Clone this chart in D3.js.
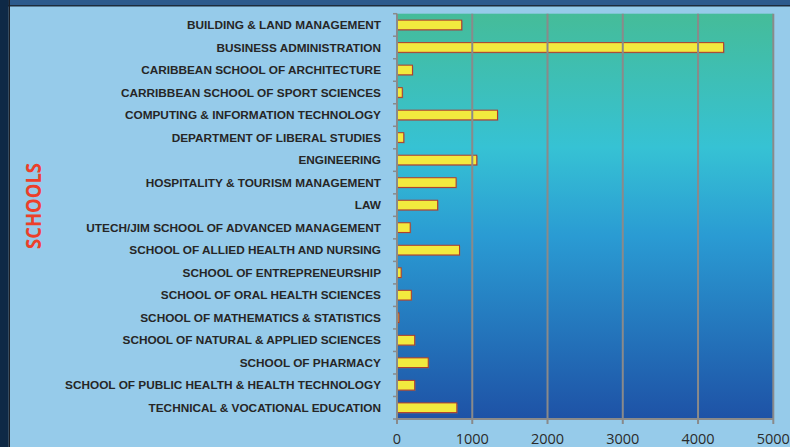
<!DOCTYPE html>
<html>
<head>
  <meta charset="utf-8">
  <script src="https://d3js.org/d3.v7.min.js"></script>
  <style>
    body{margin:0;padding:0;background:#96cbea;}
    svg{display:block;}
    .lbl{font-family:"Liberation Sans",Arial,sans-serif;font-weight:bold;font-size:11.8px;fill:#262626;}
    .tick-x{font-family:"Open Sans",sans-serif;font-size:14.5px;fill:#2b2b2b;}
  </style>
</head>
<body>
<svg></svg>
<script>
  // schools and enrolment
  var schools = [
    "BUILDING & LAND MANAGEMENT",
    "BUSINESS ADMINISTRATION",
    "CARIBBEAN SCHOOL OF ARCHITECTURE",
    "CARRIBBEAN SCHOOL OF SPORT SCIENCES",
    "COMPUTING & INFORMATION TECHNOLOGY",
    "DEPARTMENT OF LIBERAL STUDIES",
    "ENGINEERING",
    "HOSPITALITY & TOURISM MANAGEMENT",
    "LAW",
    "UTECH/JIM SCHOOL OF ADVANCED MANAGEMENT",
    "SCHOOL OF ALLIED HEALTH AND NURSING",
    "SCHOOL OF ENTREPRENEURSHIP",
    "SCHOOL OF ORAL HEALTH SCIENCES",
    "SCHOOL OF MATHEMATICS & STATISTICS",
    "SCHOOL OF NATURAL & APPLIED SCIENCES",
    "SCHOOL OF PHARMACY",
    "SCHOOL OF PUBLIC HEALTH & HEALTH TECHNOLOGY",
    "TECHNICAL & VOCATIONAL EDUCATION"
  ];
  var students = [860, 4340, 205, 70, 1335, 90, 1060, 785, 540, 175, 830, 55, 190, 25, 235, 415, 235, 795];
  var xTicks = [0, 1000, 2000, 3000, 4000, 5000];
  var axisTitle = "SCHOOLS";

  var W = 790, H = 447;
  var pL = 397, pT = 13.7, pR = 773.3, pB = 419;

  var svg = d3.select("svg").attr("width", W).attr("height", H);

  // page frame
  svg.append("rect").attr("width", W).attr("height", H).attr("fill", "#96cbea");
  svg.append("rect").attr("x", 0).attr("y", 0).attr("width", W).attr("height", 5).attr("fill", "#2d5a8c");
  svg.append("rect").attr("x", 0).attr("y", 5).attr("width", W).attr("height", 1.5).attr("fill", "#1d2c3c");
  svg.append("rect").attr("x", 0).attr("y", 0).attr("width", 8.5).attr("height", H).attr("fill", "#0e2946");
  svg.append("rect").attr("x", 8.5).attr("y", 0).attr("width", 1.5).attr("height", H).attr("fill", "#1b1f26");

  var defs = svg.append("defs");
  var grad = defs.append("linearGradient").attr("id", "bg")
      .attr("x1", 0).attr("y1", 0).attr("x2", 0).attr("y2", 1);
  [["0%", "#45bc99"], ["33%", "#36c2d4"], ["55%", "#2a9bd3"], ["100%", "#1e52a6"]].forEach(function(s){
    grad.append("stop").attr("offset", s[0]).attr("stop-color", s[1]);
  });

  var x = d3.scaleLinear().domain([0, 5000]).range([pL, pR]);
  var y = d3.scaleBand().domain(schools).range([pT, pB]).paddingInner(0.57).paddingOuter(0.285);

  svg.append("rect").attr("x", pL).attr("y", pT)
    .attr("width", pR - pL).attr("height", pB - pT)
    .attr("fill", "url(#bg)");

  // bars (with faint shadow)
  var g = svg.append("g");
  g.selectAll("rect.sh").data(students).enter().append("rect")
    .attr("class", "sh")
    .attr("x", pL + 1)
    .attr("y", function(d, i){ return y(schools[i]) + 1; })
    .attr("width", function(d){ return x(d) - pL; })
    .attr("height", y.bandwidth())
    .attr("fill", "#7a7a7a").attr("opacity", 0.6);
  g.selectAll("rect.bar").data(students).enter().append("rect")
    .attr("class", "bar")
    .attr("x", pL)
    .attr("y", function(d, i){ return y(schools[i]); })
    .attr("width", function(d){ return x(d) - pL; })
    .attr("height", y.bandwidth())
    .attr("fill", "#f2ea3e").attr("stroke", "#b0392c").attr("stroke-width", 1);

  // gridlines sit on top of the bars
  svg.append("g").selectAll("line").data(xTicks.slice(1)).enter().append("line")
    .attr("x1", function(d){ return x(d); }).attr("x2", function(d){ return x(d); })
    .attr("y1", pT).attr("y2", pB + 5)
    .attr("stroke", "#8a8a8a").attr("stroke-width", 2);

  // y axis line + ticks at band edges
  svg.append("line").attr("x1", pL).attr("x2", pL).attr("y1", pT).attr("y2", pB + 5)
    .attr("stroke", "#8a8a8a").attr("stroke-width", 2);
  var step = y.step();
  svg.append("g").selectAll("line").data(d3.range(schools.length + 1)).enter().append("line")
    .attr("x1", pL - 4).attr("x2", pL)
    .attr("y1", function(i){ return pT + i * step; })
    .attr("y2", function(i){ return pT + i * step; })
    .attr("stroke", "#8a8a8a").attr("stroke-width", 1.5);
  svg.append("line").attr("x1", pL).attr("x2", pR).attr("y1", pB).attr("y2", pB)
    .attr("stroke", "#8a8a8a").attr("stroke-width", 2);

  // category labels
  svg.append("g").selectAll("text").data(schools).enter().append("text")
    .attr("class", "lbl")
    .attr("x", 381)
    .attr("y", function(d){ return y(d) + y.bandwidth() / 2; })
    .attr("dy", "0.36em")
    .attr("text-anchor", "end")
    .text(function(d){ return d; });

  // x tick labels
  svg.append("g").selectAll("text").data(xTicks).enter().append("text")
    .attr("class", "tick-x")
    .attr("x", function(d){ return x(d); })
    .attr("y", 444)
    .attr("text-anchor", "middle")
    .text(function(d){ return d; });

  // axis title, narrow like the original
  svg.append("text")
    .attr("transform", "translate(41,206) rotate(-90)")
    .attr("text-anchor", "middle")
    .attr("font-family", "'Open Sans',sans-serif")
    .attr("font-weight", "bold")
    .attr("font-size", 21)
    .attr("textLength", 86)
    .attr("lengthAdjust", "spacingAndGlyphs")
    .attr("fill", "#ec3f2a")
    .text(axisTitle);
</script>
</body>
</html>
